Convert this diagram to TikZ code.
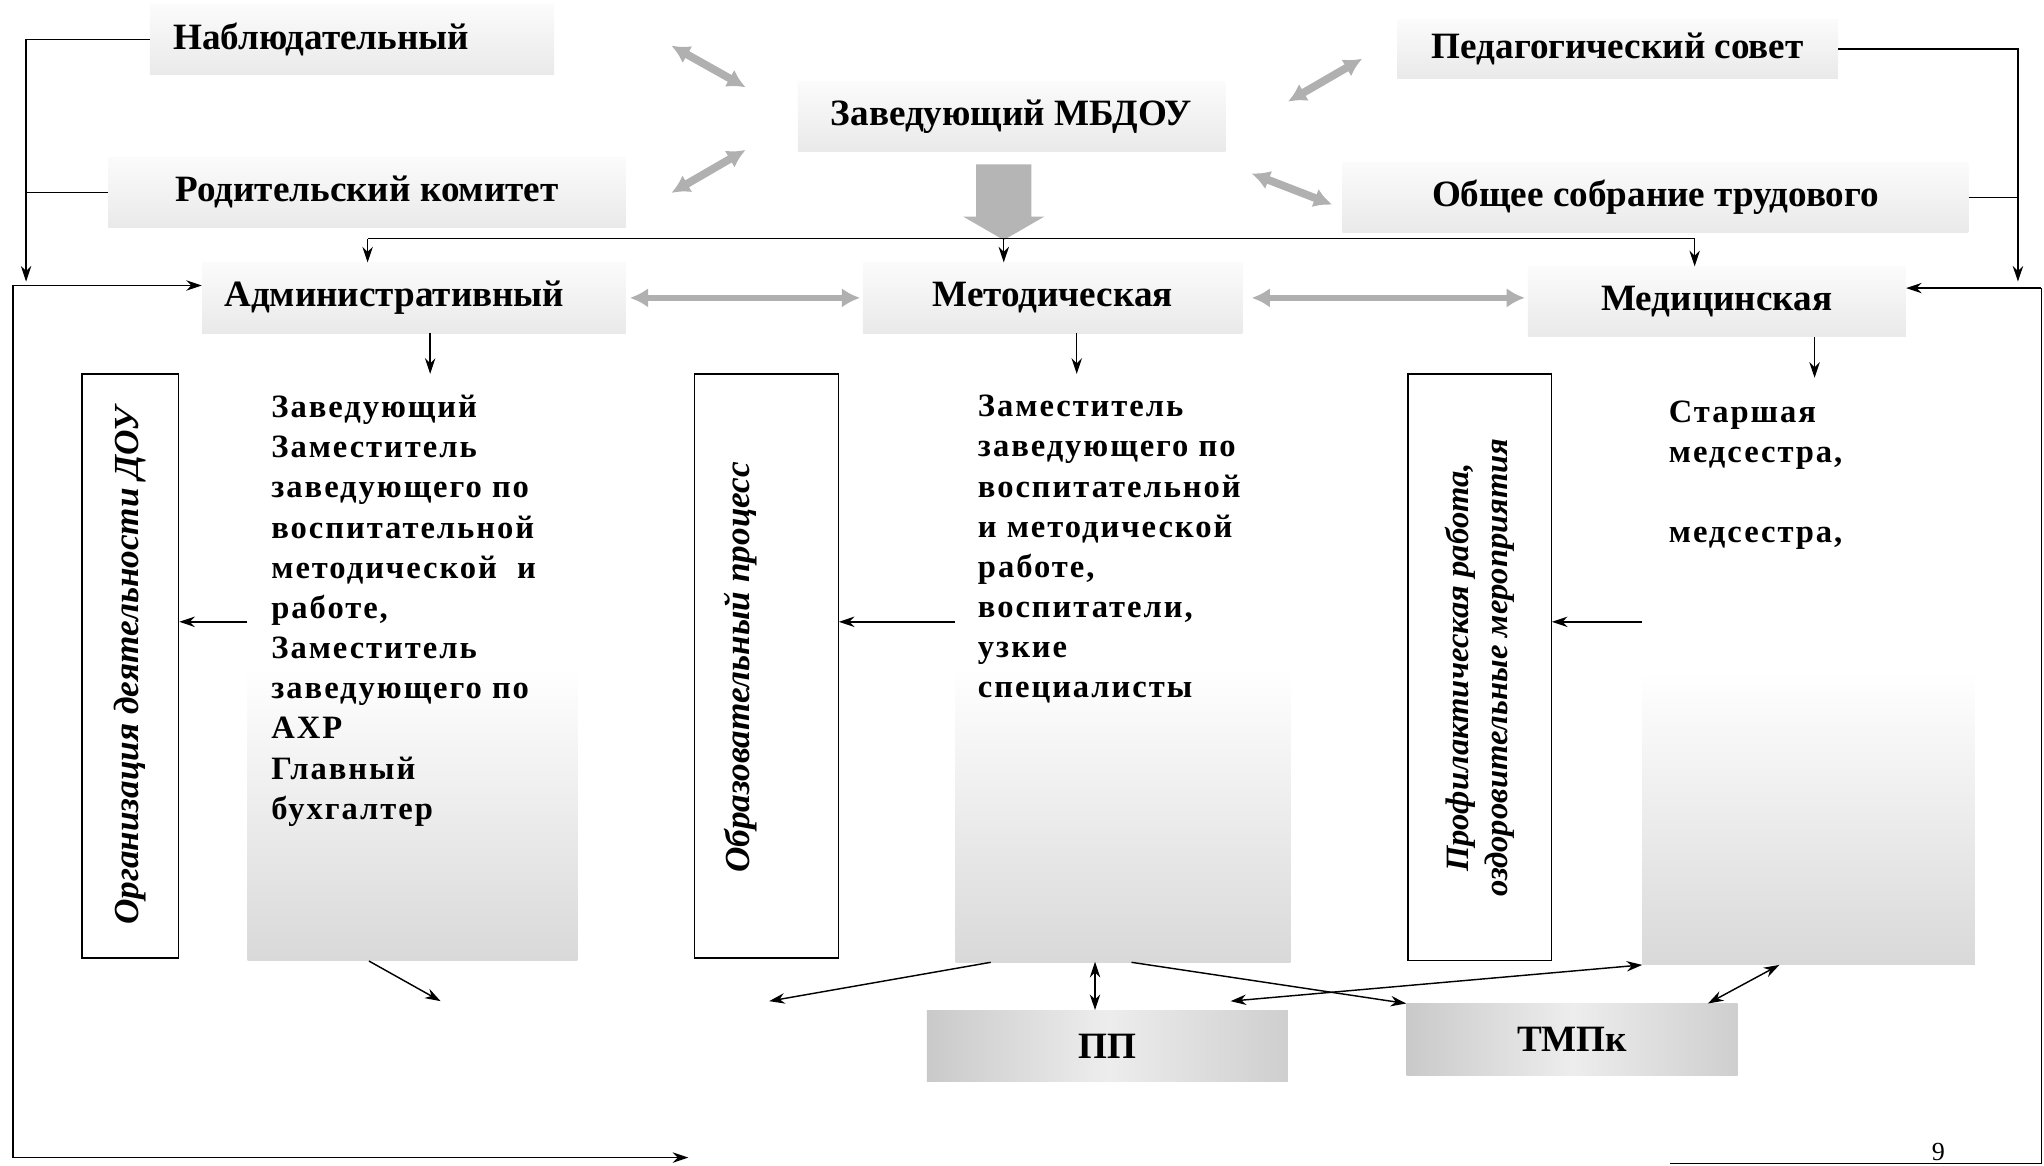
\documentclass[tikz,border=0pt]{standalone}
\usepackage{fontspec}
\setmainfont{Liberation Serif}
\usetikzlibrary{arrows.meta,shapes.arrows}

\begin{document}
\begin{tikzpicture}[x=1pt, y=-1pt,
    hdr/.style = {top color=gray!3, bottom color=gray!17, minimum height=54pt,
                  font={\fontsize{28.5}{33}\selectfont\bfseries}},
    lst/.style = {top color=white, bottom color=gray!30, middle color=white},
    lsttext/.style = {anchor=north west, inner sep=0pt, align=left,
                  font={\fontsize{25}{30.8}\selectfont\bfseries\addfontfeatures{LetterSpace=6}}},
    vbox/.style = {draw, line width=1pt, fill=white, rotate=90, align=center,
                  font={\fontsize{27}{31}\selectfont\bfseries\itshape}},
    sub/.style = {left color=gray!42, right color=gray!38, middle color=gray!14,
                  minimum height=55pt, font={\fontsize{28.5}{33}\selectfont\bfseries}},
    arr/.style = {-{Stealth[length=12pt,width=8pt]}, line width=1.1pt},
    darr/.style = {{Stealth[length=12pt,width=8pt]}-{Stealth[length=12pt,width=8pt]}, line width=1.1pt},
    fat/.style = {{Latex[length=14pt,width=15pt]}-{Latex[length=14pt,width=15pt]},
                  line width=6pt, draw=gray!62}
  ]
  \fill[white] (0,0) rectangle (1568,894);
  \useasboundingbox (0,0) rectangle (1568,894);

  \node[hdr, minimum width=310pt, text width=274pt, inner xsep=18pt, align=left] (nab) at (270,30.5) {Наблюдательный};
  \node[hdr, minimum width=328pt] (zav) at (776,89.5) {Заведующий МБДОУ};
  \node[hdr, minimum width=338pt, minimum height=45pt] (ped) at (1241,37.5) {Педагогический совет};
  \node[hdr, minimum width=397pt] (rod) at (281.5,147.5) {Родительский комитет};
  \node[hdr, minimum width=480pt] (obs) at (1270,151.5) {Общее собрание трудового};
  \node[hdr, minimum width=325pt, text width=291pt, inner xsep=17pt, align=left] (adm) at (317.5,228.5) {Административный};
  \node[hdr, minimum width=291pt] (met) at (807.5,228.5) {Методическая};
  \node[hdr, minimum width=290pt] (med) at (1317,231.5) {Медицинская};

  \node[single arrow, rotate=-90, fill=gray!58, minimum height=58pt, minimum width=62pt,
        single arrow head extend=10pt, single arrow tip angle=120,
        inner xsep=0pt, inner ysep=21pt] (down) at (770,149) {};

  \node[lst, minimum width=253pt, minimum height=450pt] (admL) at (316.5,512) {};
  \node[lst, minimum width=257pt, minimum height=451pt] (metL) at (861.5,512.5) {};
  \node[lst, minimum width=255pt, minimum height=450pt] (medL) at (1387.5,515) {};

  \node[lsttext] (admT) at (208,303) {Заведующий\\Заместитель\\заведующего по\\воспитательной\\методической~ и\\работе,\\Заместитель\\заведующего по\\АХР\\Главный\\бухгалтер};
  \node[lsttext] (metT) at (750,303) {Заместитель\\заведующего по\\воспитательной\\и методической\\работе,\\воспитатели,\\узкие\\специалисты};
  \node[lsttext] (medT) at (1280,307) {Старшая\\медсестра,\\[30.8pt]медсестра,};

  \node[vbox, minimum width=448pt, minimum height=74pt] (org) at (100,511) {Организация деятельности ДОУ};
  \node[vbox, minimum width=448pt, minimum height=110pt] (obr) at (588,511) {};
  \node[rotate=90, font={\fontsize{27}{31}\selectfont\bfseries\itshape}] (obrT) at (568,512) {Образовательный процесс};
  \node[vbox, minimum width=450pt, minimum height=110pt, font={\fontsize{25}{30}\selectfont\bfseries\itshape}]
        (prof) at (1135,512) {Профилактическая работа,\\оздоровительные мероприятия};

  \node[sub, minimum width=277pt] (pp) at (849.5,802.5) {ПП};
  \node[sub, minimum width=254pt] (tmp) at (1206,797.5) {ТМПк};

  \node[font={\fontsize{20}{24}\selectfont}] (pgnum) at (1487,884) {9};

  \coordinate (f1a) at (515,35);   \coordinate (f1b) at (572,67);
  \coordinate (f2a) at (515,148);  \coordinate (f2b) at (572,115);
  \coordinate (f3a) at (1045,45);  \coordinate (f3b) at (988,78);
  \coordinate (f4a) at (960,133);  \coordinate (f4b) at (1022,157);
  \draw[fat] (f1a) -- (f1b);
  \draw[fat] (f2a) -- (f2b);
  \draw[fat] (f3a) -- (f3b);
  \draw[fat] (f4a) -- (f4b);
  \draw[fat, line width=5pt] ([xshift=3pt]adm.east) -- ([xshift=-2pt]met.west);
  \draw[fat, line width=5pt] ([xshift=7pt]met.east) -- ([xshift=-2pt]met.east -| med.west);

  \coordinate (bus) at (770,183);
  \draw (bus) -- ++(-488,0) coordinate (busL);
  \draw (bus) -- ++(530,0) coordinate (busR);
  \draw[arr] (busL) -- (busL |- adm.north);
  \draw[arr] (bus) -- (bus |- met.north);
  \draw[arr] (busR) -- (busR |- med.north);

  \coordinate (t1) at ([xshift=12.5pt]adm.south);
  \coordinate (t2) at ([xshift=18.5pt]met.south);
  \coordinate (t3) at ([xshift=75pt]med.south);
  \draw[arr] (t1) -- (t1 |- admL.north);
  \draw[arr] (t2) -- (t2 |- metL.north);
  \draw[arr] (t3) -- (t3 |- medL.north);

  \coordinate (a1) at ([yshift=35pt]admL.west);
  \coordinate (a2) at ([yshift=35.5pt]metL.west);
  \coordinate (a3) at ([yshift=38pt]medL.west);
  \draw[arr] (a1) -- (a1 -| org.south);
  \draw[arr] (a2) -- (a2 -| obr.south);
  \draw[arr] (a3) -- (a3 -| prof.south);

  \coordinate (admEnd) at (338,768);
  \coordinate (metEnd) at (590,768);
  \coordinate (ppEnd) at (944,768);
  \draw[arr] ([xshift=-33.5pt]admL.south) -- (admEnd);
  \draw[arr] ([xshift=-101.5pt]metL.south) -- (metEnd);
  \draw[darr] ([xshift=-9.5pt]pp.north) -- ++(0,-37);
  \draw[arr] ([xshift=6.5pt]metL.south) -- (tmp.north west);
  \draw[darr] (ppEnd) -- (medL.south west);
  \draw[darr] ([xshift=-22.5pt]medL.south) -- ([xshift=-23pt]tmp.north east);

  \coordinate (lftA) at (20,216);
  \coordinate (lftB) at (10,219);
  \coordinate (lftC) at (10,888);
  \coordinate (botL) at (528,888);
  \draw[arr] (nab.west) -| (lftA);
  \draw (rod.west) -- (rod.west -| lftA);
  \draw[arr] (lftB) -- (lftB -| adm.west);
  \draw[arr] (lftB) -- (lftC) -- (botL);

  \coordinate (rgtA) at (1548,216);
  \coordinate (rgtB) at (1566,221);
  \coordinate (rgtC) at (1566,892);
  \coordinate (botR) at (1281,892);
  \draw[arr] (ped.east) -| (rgtA);
  \draw (obs.east) -- (obs.east -| rgtA);
  \draw[arr] (rgtB) -- (rgtB -| med.east);
  \draw (rgtB) -- (rgtC) -- (botR);
\end{tikzpicture}
\end{document}
